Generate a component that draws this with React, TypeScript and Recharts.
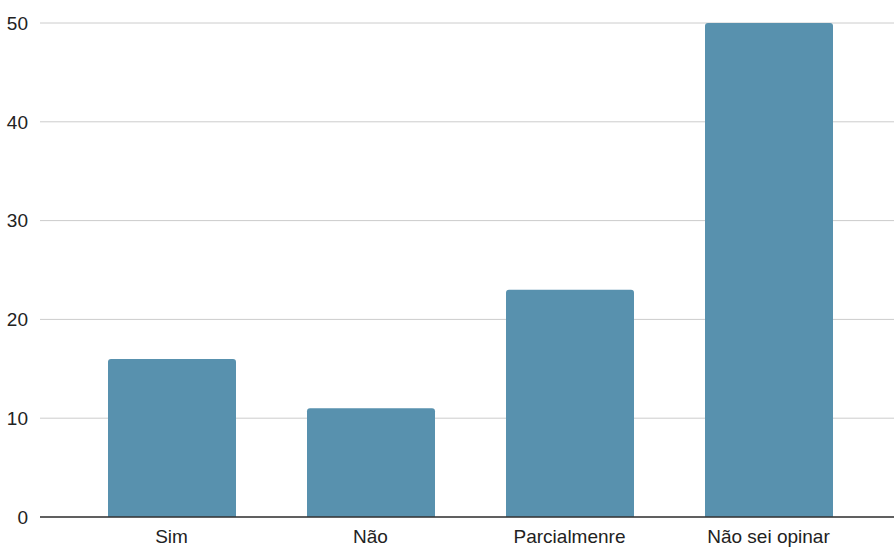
import React from 'react';
import { BarChart, Bar, XAxis, YAxis, CartesianGrid } from 'recharts';

const categories = ['Sim', 'Não', 'Parcialmenre', 'Não sei opinar'];
const counts = [16, 11, 23, 50];
const yTicks = [0, 10, 20, 30, 40, 50];

const BAR_COLOR = '#5891ae';

export default function App() {
  const data = categories.map((name, i) => ({ name, value: counts[i] }));

  return (
    <div style={{ position: 'absolute', left: 0, top: 0, fontFamily: 'Liberation Sans, Arial, sans-serif' }}>
      <BarChart
        width={894}
        height={547}
        data={data}
        margin={{ top: 23, right: 0, bottom: 0, left: 0 }}
      >
        <CartesianGrid vertical={false} stroke="#cccccc" strokeWidth={1} />
        <XAxis
          dataKey="name"
          padding={{ left: 32, right: 26 }}
          tickLine={false}
          tickSize={0}
          tickMargin={13}
          axisLine={{ stroke: '#333333', strokeWidth: 1.5 }}
          tick={{ fill: '#222222', fontSize: 19 }}
          height={30}
        />
        <YAxis
          domain={[0, 50]}
          ticks={yTicks}
          width={40}
          tickLine={false}
          axisLine={false}
          tickSize={0}
          tickMargin={12}
          tick={{ fill: '#222222', fontSize: 19 }}
        />
        <Bar
          dataKey="value"
          fill={BAR_COLOR}
          barSize={128}
          radius={[3, 3, 0, 0]}
          isAnimationActive={false}
        />
      </BarChart>
    </div>
  );
}
